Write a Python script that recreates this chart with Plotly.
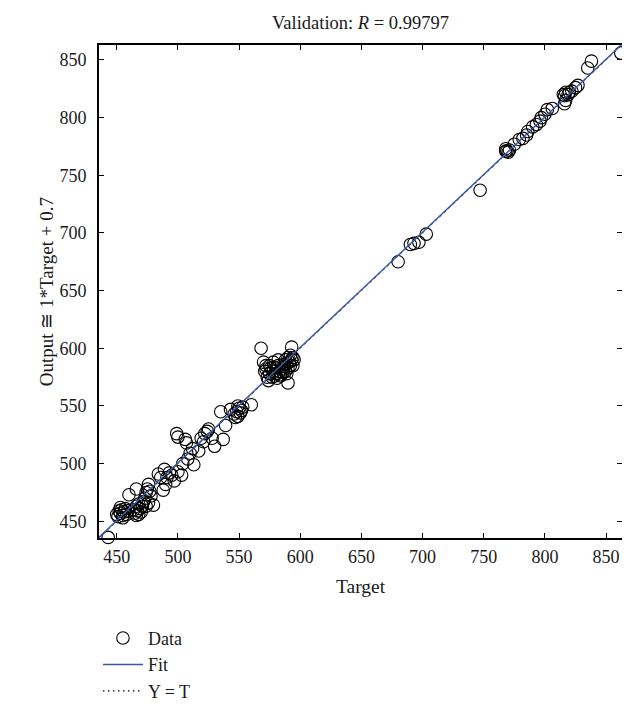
import plotly.graph_objects as go

# ---- data ----
targets = [
    443,
    450, 451, 452, 453, 454, 455, 456, 457, 458, 453, 455, 459,
    460,
    464, 465, 466, 467, 468, 469, 470, 466, 471, 468,
    466,
    473, 474, 475, 476, 477, 478, 476, 480, 472, 474,
    484, 486, 489, 491, 488, 493, 495, 497, 503, 490, 500,
    499, 500, 506, 507, 504, 508, 510, 513, 517, 519, 522, 525, 528, 530, 537, 539, 535, 543, 521, 524, 512,
    546, 548, 549, 550, 551, 552, 553, 549, 547,
    560,
    568, 570, 572, 571, 573, 574, 575, 576, 578, 579, 580, 580, 582, 583, 584, 585, 586, 586, 587, 588,
    588, 589, 590, 590, 591, 592, 592, 593, 593, 594, 590, 577, 581, 584, 575, 572, 586, 589, 582, 578,
    594, 595,
    680, 690, 693, 697, 703,
    747,
    768, 769, 770, 768, 771, 775, 779, 782, 785, 786, 790, 793, 796, 797, 800, 802, 806,
    816, 817, 815, 817, 820, 822, 816, 819, 825, 827, 835, 838, 862,
]
outputs = [
    436,
    456, 454, 459, 457, 460, 455, 458, 461, 456, 462, 453, 459,
    473,
    460, 457, 463, 459, 465, 461, 458, 455, 463, 456,
    478,
    470, 475, 478, 482, 476, 472, 466, 464, 467, 463,
    491, 488, 495, 488, 477, 492, 490, 485, 490, 482, 493,
    526, 523, 521, 518, 500, 504, 509, 499, 511, 522, 526, 530, 522, 515, 521, 533, 545, 547, 519, 528, 513,
    543, 545, 541, 548, 544, 546, 549, 550, 540,
    551,
    600, 588, 585, 580, 575, 572, 578, 583, 580, 576, 583, 578, 585, 580, 577, 582, 579, 586, 584, 590,
    580, 587, 583, 592, 588, 585, 594, 601, 590, 585, 570, 575, 574, 576, 585, 582, 581, 578, 590, 588,
    592, 590,
    675, 690, 691, 692, 699,
    737,
    773, 771, 770, 771, 772, 777, 781, 782, 785, 788, 792, 794, 797, 800, 803, 807, 808,
    812, 815, 820, 822, 822, 823, 819, 820, 826, 828, 843, 849, 856,
]
axis_min, axis_max = 435.5, 863.0
fit_slope, fit_intercept = 1.0, 0.7
x_ticks = [450, 500, 550, 600, 650, 700, 750, 800, 850]
y_ticks = [450, 500, 550, 600, 650, 700, 750, 800, 850]
r_value = "0.99797"

FONT = "Liberation Serif"
TXT = "#1a1a1a"
fig = go.Figure()

line_x = [axis_min, axis_max]
fig.add_trace(go.Scatter(
    x=line_x, y=line_x, mode="lines", name="Y = T",
    line=dict(color="black", width=0.8, dash="dot"), showlegend=False,
))
fig.add_trace(go.Scatter(
    x=targets, y=outputs, mode="markers", name="Data",
    marker=dict(symbol="circle-open", size=12.5, color="black", line=dict(width=1.1)),
    cliponaxis=False,
))
fig.add_trace(go.Scatter(
    x=line_x, y=[fit_slope * v + fit_intercept for v in line_x], mode="lines", name="Fit",
    line=dict(color="#3a5aa6", width=1.4),
))
fig.add_trace(go.Scatter(
    x=[None], y=[None], mode="lines", name="Y = T",
    line=dict(color="black", width=1.3, dash="1.5px,3.5px"),
))

axis_common = dict(
    range=[axis_min, axis_max], showgrid=False, zeroline=False,
    showline=True, linecolor="black", linewidth=2, mirror="ticks",
    ticks="inside", ticklen=5, tickwidth=1, tickcolor="black",
    tickfont=dict(family=FONT, size=18, color=TXT),
)
fig.update_xaxes(tickvals=x_ticks, ticklabelstandoff=1, **axis_common)
fig.update_yaxes(tickvals=y_ticks, ticklabelstandoff=7, **axis_common)

fig.update_layout(
    width=630, height=714,
    margin=dict(l=91, r=16, t=37, b=153),
    paper_bgcolor="white", plot_bgcolor="white",
    title=dict(text=f"Validation: <i>R</i> = {r_value}", x=0.5, xref="paper",
               y=1 - 15 / 714, yref="container", yanchor="middle", xanchor="center",
               font=dict(family=FONT, size=18.5, color=TXT)),
    legend=dict(x=-0.002, y=-0.166, xanchor="left", yanchor="top",
                font=dict(family=FONT, size=18, color=TXT), itemwidth=40,
                tracegroupgap=0, bgcolor="rgba(0,0,0,0)", traceorder="normal"),
    annotations=[
        dict(text="Target", xref="paper", yref="paper", x=0.5, y=-0.099,
             showarrow=False, font=dict(family=FONT, size=19.5, color=TXT),
             xanchor="center", yanchor="middle"),
        dict(text="Output ≅ 1*Target + 0.7", xref="paper", yref="paper", x=-0.1, y=0.5,
             showarrow=False, textangle=-90, font=dict(family=FONT, size=19, color=TXT),
             xanchor="center", yanchor="middle"),
    ],
)

fig.write_html("out.html")
